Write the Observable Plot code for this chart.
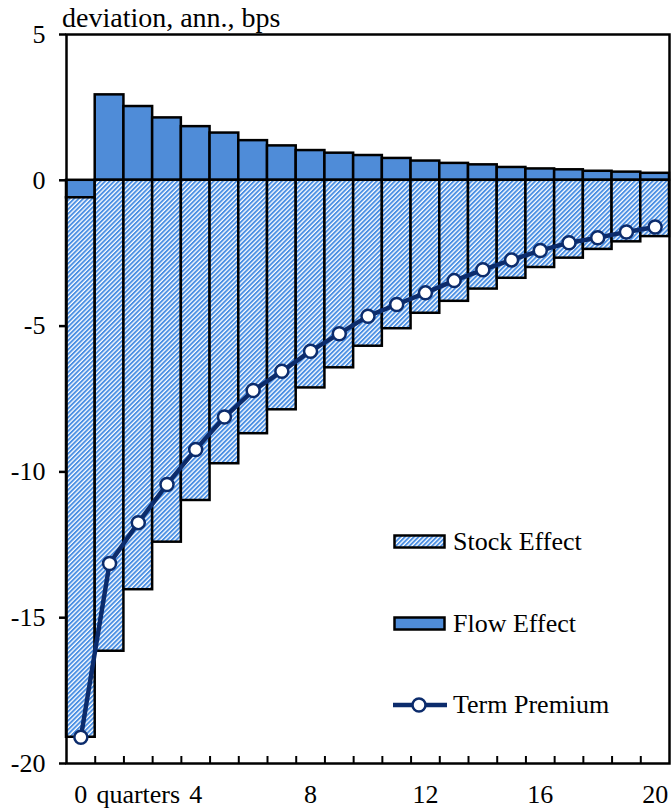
<!DOCTYPE html>
<html>
<head>
<meta charset="utf-8">
<script src="https://cdn.jsdelivr.net/npm/d3@7"></script>
<script src="https://cdn.jsdelivr.net/npm/@observablehq/plot@0.6"></script>
<style>
  html, body { margin: 0; padding: 0; background: #fff; }
  #wrap { position: relative; width: 671px; height: 811px; font-family: "Liberation Serif", "Times New Roman", serif; }
  #title { position: absolute; left: 62px; top: 4px; font-size: 28px; line-height: 28px; color: #000; white-space: nowrap; }
  .leg { position: absolute; left: 393px; display: flex; align-items: center; font-size: 26px; line-height: 26px; white-space: nowrap; }
  .leg svg { margin-right: 6px; }
</style>
</head>
<body>
<div id="wrap">
  <div id="chart"></div>
  <div id="title">deviation, ann., bps</div>
  <div id="legend"></div>
</div>
<script>
const quarters = d3.range(0, 21);
const flowEffect  = [-0.60, 2.93, 2.53, 2.14, 1.84, 1.62, 1.36, 1.18, 1.02, 0.93, 0.85, 0.75, 0.66, 0.58, 0.53, 0.44, 0.39, 0.36, 0.31, 0.28, 0.24];
const stockEffect = [-18.50, -16.15, -14.04, -12.41, -10.98, -9.72, -8.69, -7.87, -7.12, -6.43, -5.69, -5.09, -4.56, -4.15, -3.73, -3.36, -2.99, -2.67, -2.37, -2.11, -1.93];
const termPremium = [-19.10, -13.14, -11.74, -10.43, -9.23, -8.12, -7.21, -6.55, -5.86, -5.26, -4.66, -4.26, -3.86, -3.44, -3.07, -2.73, -2.41, -2.14, -1.97, -1.77, -1.60];
const yTicks = [-20, -15, -10, -5, 0, 5];
const xLabelTicks = [0, 2, 4, 8, 12, 16, 20];
const xLabelText = {0: "0", 2: "quarters", 4: "4", 8: "8", 12: "12", 16: "16", 20: "20"};
const seriesNames = ["Stock Effect", "Flow Effect", "Term Premium"];

const flowColor = "#4f8cd8";
const stripeColor = "#4b8fe3";
const navy = "#0c2c6c";
const hatchP = 3.2, hatchW = 1.9;

const barData = [];
quarters.forEach((q, i) => {
  barData.push({q, series: "Flow", value: flowEffect[i]});
  barData.push({q, series: "Stock", value: stockEffect[i]});
});
const lineData = quarters.map((q, i) => ({q, value: termPremium[i]}));
const boundaries = d3.range(0.5, 20, 1);

const chart = Plot.plot({
  width: 671,
  height: 811,
  marginLeft: 66,
  marginRight: 2,
  marginTop: 34,
  marginBottom: 48,
  style: {fontFamily: "Liberation Serif, Times New Roman, serif", fontSize: "26px", background: "white"},
  x: {type: "linear", domain: [-0.5, 20.5], axis: null},
  y: {domain: [-20, 5], axis: null},
  color: {type: "ordinal", domain: ["Flow", "Stock"], range: [flowColor, "url(#hatchStock)"]},
  marks: [
    Plot.rectY(barData, Plot.stackY({
      x1: d => d.q - 0.5,
      x2: d => d.q + 0.5,
      y: "value",
      z: "series",
      fill: "series",
      stroke: "black",
      strokeWidth: 2.5
    })),
    Plot.line(lineData, {x: "q", y: "value", stroke: navy, strokeWidth: 4.5}),
    Plot.dot(lineData, {x: "q", y: "value", r: 6.5, fill: "white", stroke: navy, strokeWidth: 2.5}),
    Plot.axisY({ticks: yTicks, tickSize: 7, tickPadding: 14, tickFormat: d => String(d), stroke: "black", strokeWidth: 2.5, fill: "black", label: null}),
    Plot.axisX({ticks: boundaries, tickSize: -7, tickFormat: () => "", stroke: "black", strokeWidth: 2, label: null}),
    Plot.axisX({ticks: xLabelTicks, tickSize: 0, tickPadding: 21, tickFormat: d => xLabelText[d], fill: "black", label: null}),
    Plot.frame({stroke: "black", strokeWidth: 2.5})
  ]
});

// hatch pattern definition
const svg = d3.select(chart);
const defs = svg.insert("defs", ":first-child");
const pat = defs.append("pattern")
  .attr("id", "hatchStock")
  .attr("patternUnits", "userSpaceOnUse")
  .attr("width", hatchP).attr("height", hatchP)
  .attr("patternTransform", "rotate(45)");
pat.append("rect").attr("width", hatchP).attr("height", hatchP).attr("fill", "white");
pat.append("rect").attr("width", hatchW).attr("height", hatchP).attr("fill", stripeColor);

document.getElementById("chart").appendChild(chart);

// legend
const leg = document.getElementById("legend");
const items = [
  {name: seriesNames[0], top: 529, svg: `<svg width="54" height="16"><defs><pattern id="hatchLeg" patternUnits="userSpaceOnUse" width="${hatchP}" height="${hatchP}" patternTransform="rotate(45)"><rect width="${hatchP}" height="${hatchP}" fill="white"/><rect width="${hatchW}" height="${hatchP}" fill="${stripeColor}"/></pattern></defs><rect x="1.5" y="1.5" width="50" height="12" fill="url(#hatchLeg)" stroke="black" stroke-width="2.5"/></svg>`},
  {name: seriesNames[1], top: 611, svg: `<svg width="54" height="16"><rect x="1.5" y="1.5" width="50" height="12" fill="${flowColor}" stroke="black" stroke-width="2.5"/></svg>`},
  {name: seriesNames[2], top: 692, svg: `<svg width="54" height="16"><line x1="0" x2="54" y1="8" y2="8" stroke="${navy}" stroke-width="4.5"/><circle cx="26" cy="8" r="6.5" fill="white" stroke="${navy}" stroke-width="2.5"/></svg>`}
];
items.forEach(it => {
  const div = document.createElement("div");
  div.className = "leg";
  div.style.top = it.top + "px";
  div.innerHTML = it.svg + `<span>${it.name}</span>`;
  leg.appendChild(div);
});
</script>
</body>
</html>
